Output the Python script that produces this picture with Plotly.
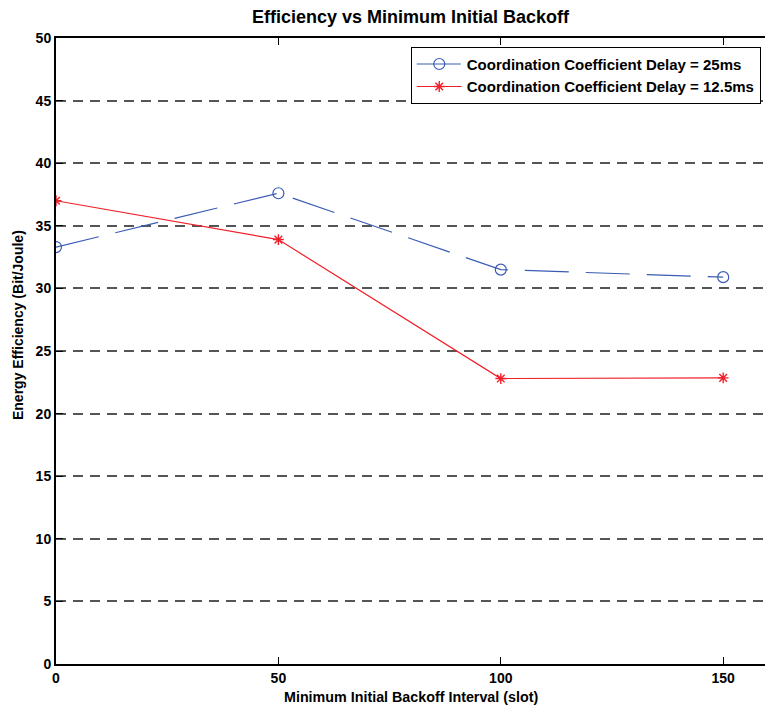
import plotly.graph_objects as go

# Minimum initial backoff interval (slots)
backoff = [0, 50, 100, 150]

# Energy efficiency (Bit/Joule) for each coordination coefficient delay
eff_25ms = [33.3, 37.6, 31.5, 30.9]
eff_12_5ms = [37.0, 33.9, 22.8, 22.85]

y_ticks = [0, 5, 10, 15, 20, 25, 30, 35, 40, 45, 50]
x_ticks = [0, 50, 100, 150]

FONT = "Liberation Sans, Arial, sans-serif"

fig = go.Figure()

fig.add_trace(go.Scatter(
    x=backoff, y=eff_25ms,
    mode="lines+markers",
    name="<b>Coordination Coefficient Delay = 25ms</b>",
    line=dict(color="#3a5cb4", width=1.2, dash="44px,17px"),
    marker=dict(symbol="circle-open", size=11, color="#3a5cb4",
                line=dict(width=1.2, color="#3a5cb4")),
))

fig.add_trace(go.Scatter(
    x=backoff, y=eff_12_5ms,
    mode="lines+markers",
    name="<b>Coordination Coefficient Delay = 12.5ms</b>",
    line=dict(color="#f0202a", width=1.2),
    marker=dict(symbol="asterisk-open", size=9, color="#f0202a",
                line=dict(width=1.4, color="#f0202a")),
))

fig.update_layout(
    width=765, height=713,
    margin=dict(l=56, r=0, t=38, b=49),
    plot_bgcolor="white",
    paper_bgcolor="white",
    font=dict(family=FONT, color="black", size=13),
    title=dict(
        text="<b>Efficiency vs Minimum Initial Backoff</b>",
        x=0.5, xanchor="center", xref="paper",
        y=0.985, yanchor="top",
        font=dict(size=18, family=FONT, color="black"),
    ),
    legend=dict(
        x=0.994, xanchor="right", y=0.986, yanchor="top",
        bgcolor="white", bordercolor="black", borderwidth=1,
        font=dict(size=15, family=FONT, color="black"),
        itemwidth=45,
        tracegroupgap=0,
    ),
    showlegend=True,
    annotations=[
        dict(text="<b>Minimum Initial Backoff Interval (slot)</b>",
             xref="paper", yref="paper", x=0.5007, y=-0.0527,
             xanchor="center", yanchor="middle", showarrow=False,
             font=dict(size=14.3, family=FONT, color="black")),
        dict(text="<b>Energy Efficiency (Bit/Joule)</b>",
             xref="paper", yref="paper", x=-0.0536, y=0.5415,
             xanchor="center", yanchor="middle", showarrow=False,
             textangle=-90,
             font=dict(size=14, family=FONT, color="black")),
    ],
)

fig.update_xaxes(
    range=[0, 159.4],
    tickvals=x_ticks,
    ticktext=[f"<b>{v}</b>" for v in x_ticks],
    ticks="inside", ticklen=7, tickcolor="black", tickwidth=1,
    showline=True, linecolor="black", linewidth=2, mirror="ticks",
    showgrid=False, zeroline=False,
    tickfont=dict(size=14, family=FONT, color="black"),
)

fig.update_yaxes(
    range=[0, 50],
    tickvals=y_ticks,
    ticktext=[f"<b>{v}</b>" for v in y_ticks],
    ticks="inside", ticklen=7, tickcolor="black", tickwidth=1,
    showline=True, linecolor="black", linewidth=2, mirror=False,
    showgrid=True, gridcolor="#555555", gridwidth=1.5, griddash="10px,7px",
    zeroline=False,
    tickfont=dict(size=14, family=FONT, color="black"),
)

fig.write_html("out.html")
